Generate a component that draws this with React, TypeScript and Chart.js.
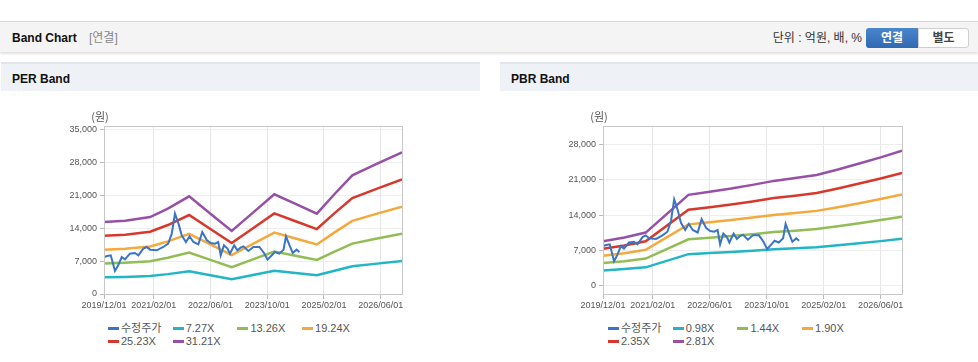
import React, { useEffect, useRef } from "react";
import { Chart, registerables } from "chart.js";

Chart.register(...registerables);

// ---------- data ----------
const xTickMonths = [0, 14, 30, 46, 62, 78];
const xTickLabels = ["2019/12/01", "2021/02/01", "2022/06/01", "2023/10/01", "2025/02/01", "2026/06/01"];

const perYTicks = [0, 7000, 14000, 21000, 28000, 35000];
const pbrYTicks = [0, 7000, 14000, 21000, 28000];

// adjusted share price (months since 2019/12)
const priceMonths = [
  0, 0.9, 1.9, 3.1, 4.0, 5.0, 5.9, 7.3, 8.7, 9.7, 11.1, 12.0, 13.0, 14.9, 16.7, 18.1, 19.1, 20.0, 21.0,
  21.9, 23.1, 24.1, 25.2, 26.6, 27.7, 29.0, 30.1, 31.3, 32.2, 32.9, 33.8, 34.8, 35.5, 36.7, 37.6, 38.5,
  39.3, 40.7, 42.1, 43.8, 45.1, 46.1, 47.3, 48.2, 49.4, 50.6, 51.3, 52.3, 53.2, 54.3, 55.1,
];
const priceValues = [
  7860, 8080, 8220, 4890, 6090, 7860, 7370, 8570, 8720, 8220, 9640, 9990, 9420, 9280, 9990, 10700, 12820,
  17080, 14950, 12470, 11050, 12260, 11050, 10560, 13180, 11410, 10840, 10700, 11050, 8220, 10340, 9640,
  8570, 10340, 9280, 9850, 10130, 9140, 9990, 9990, 8720, 7300, 8220, 8930, 8570, 9420, 12260, 10340,
  8720, 9420, 8930,
];

// PER band
const perBandMonths = [0, 6, 13, 18, 24, 30, 36, 42, 48, 54, 60, 65, 70, 77, 84];
const perLabels = ["7.27X", "13.26X", "19.24X", "25.23X", "31.21X"];
const per727 = [3562, 3628, 3809, 4224, 4835, 3977, 3119, 4028, 4936, 4457, 3977, 4951, 5874, 6456, 7016];
const per1326 = [6497, 6617, 6948, 7704, 8818, 7253, 5689, 7346, 9004, 8128, 7253, 9030, 10714, 11775, 12796];
const per1924 = [9428, 9601, 10082, 11178, 12795, 10524, 8254, 10659, 13064, 11794, 10524, 13102, 15546, 17085, 18567];
const per2523 = [12363, 12590, 13221, 14659, 16778, 13801, 10824, 13977, 17131, 15466, 13801, 17182, 20386, 22404, 24347];
const per3121 = [15293, 15574, 16354, 18133, 20755, 17072, 13389, 17290, 21192, 19132, 17072, 21254, 25218, 27714, 30118];

// PBR band
const pbrBandMonths = [0, 6, 12, 24, 30, 36, 42, 48, 54, 60, 66, 72, 78, 84];
const pbrLabels = ["0.98X", "1.44X", "1.90X", "2.35X", "2.81X"];
const pbr098 = [3067, 3332, 3675, 6272, 6488, 6703, 6958, 7232, 7428, 7644, 8016, 8428, 8849, 9310];
const pbr144 = [4507, 4896, 5400, 9216, 9533, 9850, 10224, 10627, 10915, 11232, 11779, 12384, 13003, 13680];
const pbr190 = [5947, 6460, 7125, 12160, 12578, 12996, 13490, 14022, 14402, 14820, 15542, 16340, 17157, 18050];
const pbr235 = [7356, 7990, 8813, 15040, 15557, 16074, 16685, 17343, 17813, 18330, 19223, 20210, 21221, 22325];
const pbr281 = [8795, 9554, 10538, 17984, 18602, 19220, 19951, 20738, 21300, 21918, 22986, 24166, 25374, 26695];

const priceLabel = "수정주가";
const PRICE_COLOR = "#3a75c5";
const BAND_COLORS = ["#22b5c5", "#92bd55", "#f5a93c", "#d7382b", "#9650a5"];

const TICK_FONT = { family: "'Liberation Sans', Arial, sans-serif", size: 9 };
const TICK_COLOR = "#555";
const FONT_MIX = "'Liberation Sans', 'Noto Sans CJK KR', Arial, sans-serif";

// ---------- plugins ----------
const framePlugin = {
  id: "frame",
  afterDraw(chart: any) {
    const { ctx, chartArea } = chart;
    ctx.save();
    ctx.strokeStyle = "#c8c8c8";
    ctx.lineWidth = 1;
    ctx.strokeRect(
      Math.round(chartArea.left) + 0.5,
      Math.round(chartArea.top) + 0.5,
      Math.round(chartArea.right - chartArea.left),
      Math.round(chartArea.bottom - chartArea.top)
    );
    ctx.fillStyle = "#555";
    ctx.font = "11px 'Noto Sans CJK KR', sans-serif";
    ctx.textAlign = "center";
    ctx.textBaseline = "middle";
    ctx.fillText("(원)", chartArea.left - 4, chartArea.top - 9.5);
    ctx.restore();
  },
};

type BandProps = {
  left: number;
  padLeft: number;
  padRight: number;
  bandMonths: number[];
  bands: number[][];
  labels: string[];
  yMin: number;
  yMax: number;
  yTicks: number[];
};

function BandChart({ left, padLeft, padRight, bandMonths, bands, labels, yMin, yMax, yTicks }: BandProps) {
  const ref = useRef<HTMLCanvasElement | null>(null);
  useEffect(() => {
    if (!ref.current) return;
    const datasets: any[] = [
      {
        label: priceLabel,
        data: priceMonths.map((m, i) => ({ x: m, y: priceValues[i] })),
        borderColor: PRICE_COLOR,
        backgroundColor: PRICE_COLOR,
        borderWidth: 2,
      },
      ...bands.map((vals, k) => ({
        label: labels[k],
        data: bandMonths.map((m, i) => ({ x: m, y: vals[i] })),
        borderColor: BAND_COLORS[k],
        backgroundColor: BAND_COLORS[k],
        borderWidth: 2.5,
      })),
    ];
    const chart = new Chart(ref.current, {
      type: "line",
      data: { datasets },
      options: {
        animation: false,
        responsive: false,
        maintainAspectRatio: false,
        layout: { padding: { left: padLeft, right: padRight, top: 34, bottom: 3 } },
        elements: { point: { radius: 0 }, line: { tension: 0 } },
        plugins: { legend: { display: false }, tooltip: { enabled: false } },
        scales: {
          x: {
            type: "linear",
            min: 0,
            max: 84,
            bounds: "data",
            afterBuildTicks: (s: any) => {
              s.ticks = xTickMonths.map((v) => ({ value: v }));
            },
            afterFit: (s: any) => {
              s.height = 20;
            },
            ticks: {
              autoSkip: false,
              maxRotation: 0,
              font: TICK_FONT,
              color: TICK_COLOR,
              padding: 1,
              callback: (v: any) => {
                const i = xTickMonths.indexOf(Number(v));
                return i >= 0 ? xTickLabels[i] : "";
              },
            },
            grid: { color: "#e6e6e6", tickColor: "#bbbbbb", tickLength: 5 },
            border: { color: "#bbbbbb" },
          },
          y: {
            type: "linear",
            min: yMin,
            max: yMax,
            bounds: "data",
            afterBuildTicks: (s: any) => {
              s.ticks = yTicks.map((v) => ({ value: v }));
            },
            afterFit: (s: any) => {
              s.width = 60;
            },
            ticks: {
              autoSkip: false,
              font: TICK_FONT,
              color: TICK_COLOR,
              padding: 3,
              callback: (v: any) => Number(v).toLocaleString("en-US"),
            },
            grid: { color: "#eeeeee", tickColor: "#bbbbbb", tickLength: 4 },
            border: { color: "#bbbbbb" },
          },
        },
      } as any,
      plugins: [framePlugin],
    });
    return () => chart.destroy();
  }, []);
  return (
    <canvas
      ref={ref}
      width={478}
      height={225}
      style={{ position: "absolute", left, top: 92, width: 478, height: 225 }}
    />
  );
}

function Legend({ left, labels }: { left: number; labels: string[] }) {
  const items = [{ t: priceLabel, c: PRICE_COLOR }, ...labels.map((t, k) => ({ t, c: BAND_COLORS[k] }))];
  return (
    <div
      style={{
        position: "absolute",
        left,
        top: 322,
        width: 260,
        display: "flex",
        flexWrap: "wrap",
        fontFamily: FONT_MIX,
        fontSize: 11,
        color: "#555",
      }}
    >
      {items.map((it) => (
        <div key={it.t} style={{ width: 64.7, height: 13.3, display: "flex", alignItems: "center" }}>
          <span style={{ display: "inline-block", width: 11, height: 3, background: it.c, marginRight: 2 }} />
          <span style={{ lineHeight: "13px", whiteSpace: "nowrap" }}>{it.t}</span>
        </div>
      ))}
    </div>
  );
}

export default function App() {
  return (
    <div
      style={{
        position: "fixed",
        left: 0,
        top: 0,
        width: 978,
        height: 362,
        background: "#fff",
        overflow: "hidden",
        fontFamily: FONT_MIX,
      }}
    >
      {/* top header */}
      <div
        style={{
          position: "absolute",
          left: 0,
          top: 21,
          width: 978,
          height: 30,
          background: "#f4f4f4",
          borderTop: "1px solid #d6d6d6",
          boxShadow: "0 2px 2px rgba(0,0,0,0.12)",
        }}
      >
        <span style={{ position: "absolute", left: 12, top: 8, fontSize: 12, fontWeight: 700, color: "#111", lineHeight: "16px" }}>
          Band Chart
        </span>
        <span style={{ position: "absolute", left: 89, top: 8, fontSize: 12, color: "#888", lineHeight: "16px" }}>[연결]</span>
        <span
          style={{
            position: "absolute",
            right: 116,
            top: 8,
            fontSize: 12,
            color: "#333",
            lineHeight: "16px",
            whiteSpace: "nowrap",
          }}
        >
          단위 : 억원, 배, %
        </span>
        <div
          style={{
            position: "absolute",
            left: 866,
            top: 6,
            width: 52,
            height: 20,
            background: "linear-gradient(#4a86cc, #2f69b3)",
            borderRadius: "3px 0 0 3px",
            color: "#fff",
            fontSize: 12,
            fontWeight: 700,
            textAlign: "center",
            lineHeight: "20px",
          }}
        >
          연결
        </div>
        <div
          style={{
            position: "absolute",
            left: 918,
            top: 6,
            width: 49,
            height: 18,
            background: "#fff",
            border: "1px solid #cfcfcf",
            borderRadius: "0 3px 3px 0",
            color: "#444",
            fontSize: 12,
            fontWeight: 700,
            textAlign: "center",
            lineHeight: "18px",
          }}
        >
          별도
        </div>
      </div>

      {/* panel headers */}
      <div
        style={{
          position: "absolute",
          left: 1,
          top: 62,
          width: 479,
          height: 27,
          background: "#eef2f7",
          borderTop: "2px solid #e2e5ea",
        }}
      >
        <span style={{ position: "absolute", left: 11, top: 7, fontSize: 12, fontWeight: 700, color: "#111", lineHeight: "16px" }}>
          PER Band
        </span>
      </div>
      <div
        style={{
          position: "absolute",
          left: 500,
          top: 62,
          width: 478,
          height: 27,
          background: "#eef2f7",
          borderTop: "2px solid #e2e5ea",
        }}
      >
        <span style={{ position: "absolute", left: 11, top: 7, fontSize: 12, fontWeight: 700, color: "#111", lineHeight: "16px" }}>
          PBR Band
        </span>
      </div>

      <BandChart
        left={2}
        padLeft={42}
        padRight={78}
        bandMonths={perBandMonths}
        bands={[per727, per1326, per1924, per2523, per3121]}
        labels={perLabels}
        yMin={0}
        yMax={35700}
        yTicks={perYTicks}
      />
      <BandChart
        left={500}
        padLeft={43}
        padRight={76}
        bandMonths={pbrBandMonths}
        bands={[pbr098, pbr144, pbr190, pbr235, pbr281]}
        labels={pbrLabels}
        yMin={-1590}
        yMax={31575}
        yTicks={pbrYTicks}
      />
      <Legend left={108} labels={perLabels} />
      <Legend left={608} labels={pbrLabels} />
    </div>
  );
}
